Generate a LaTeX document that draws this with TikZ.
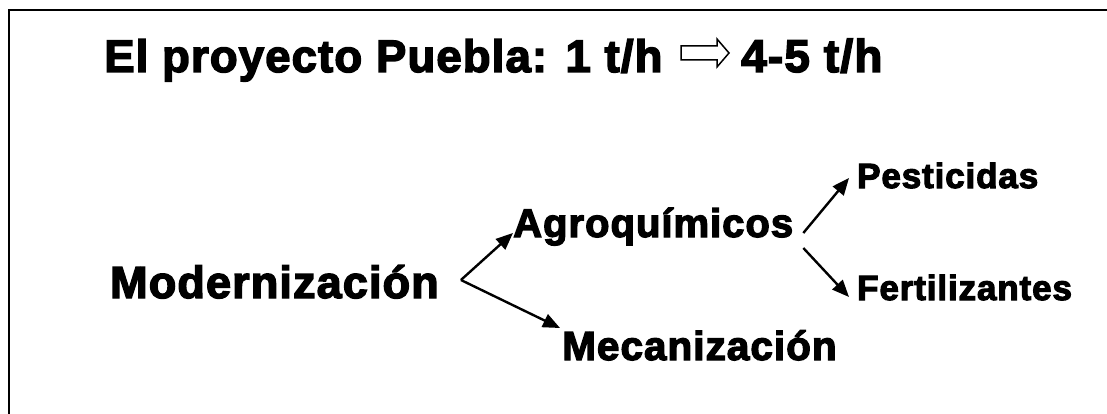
\documentclass[tikz,border=0pt]{standalone}
\usepackage{fontspec}
\usetikzlibrary{arrows.meta}
\newfontfamily\heavyfont[FakeBold=3.2,LetterSpace=2.5]{Liberation Sans Bold}

\tikzset{
  word/.style={inner sep=0pt,anchor=base west,font=\heavyfont\fontsize{#1}{#1}\selectfont},
  branch/.style={line width=2.4pt,-{Triangle[length=17pt,width=14pt]}},
  frameline/.style={line width=2.6pt}
}

\begin{document}
\begin{tikzpicture}[x=1pt,y=-1pt]
\useasboundingbox (0,0) rectangle (1107,414);
\draw[frameline] (1130,10)--(9,10)--(9,440);

% title line
\node[word=45.5] (title) at (104,72) {El proyecto Puebla: 1 t/h};
\coordinate (yieldarrow) at (681,53);
\draw[line width=1.5pt,fill=white,line join=miter]
  (yieldarrow) ++(0,-7) -- ++(36,0) -- ++(0,-7) -- ++(12,14) -- ++(-12,14) -- ++(0,-7) -- ++(-36,0) -- cycle;
\node[word=46] (target) at (741,72) {4-5 t/h};

% tree
\node[word=45] (modern) at (110,298) {Modernización};
\node[word=40] (agro) at (513,237) {Agroquímicos};
\node[word=40.5] (meca) at (562,360) {Mecanización};
\node[word=35] (pest) at (857,188) {Pesticidas};
\node[word=35] (fert) at (857,300) {Fertilizantes};

\draw[branch] ([xshift=22pt,yshift=18pt]modern.base east)--([yshift=4pt]agro.base west);
\draw[branch] ([xshift=22pt,yshift=18pt]modern.base east)--([xshift=-2pt,yshift=32pt]meca.base west);
\draw[branch] ([xshift=10pt,yshift=4pt]agro.base east)--([xshift=-8pt,yshift=10pt]pest.base west);
\draw[branch] ([xshift=10pt,yshift=-11pt]agro.base east)--([xshift=-8pt,yshift=3pt]fert.base west);
\end{tikzpicture}
\end{document}
